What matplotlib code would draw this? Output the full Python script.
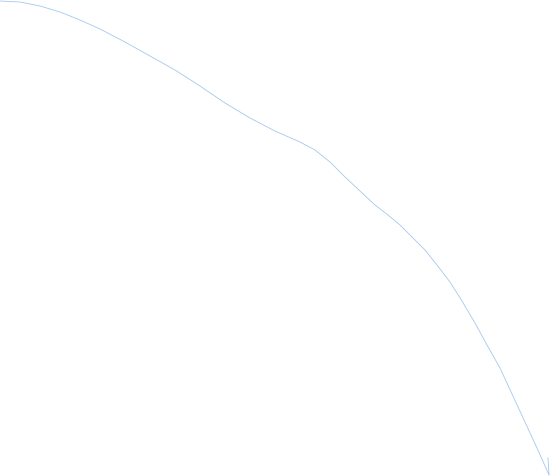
import matplotlib
matplotlib.use('Agg')
import matplotlib.pyplot as plt

# values (x to the right, y downward from the top edge)
x_vals = [0, 20, 40, 60, 80, 100, 125, 150, 175, 200, 225, 250, 275, 300,
          315, 330, 345, 360, 375, 388, 400, 412, 425, 437, 450, 462, 475,
          487, 500, 512, 525, 537, 549, 548]
y_vals = [1, 2, 6, 12, 20, 29, 42, 56, 70, 86, 103, 118, 131, 142,
          150, 162, 177, 191, 205, 215, 225, 237, 250, 265, 282, 301, 323,
          345, 368, 394, 422, 448, 475, 458]

fig = plt.figure(figsize=(5.52, 4.76), dpi=100)
ax = fig.add_axes([0, 0, 1, 1])
ax.plot(x_vals, y_vals, color='#a6c8ec', linewidth=0.6)
ax.set_xlim(0, 552)
ax.set_ylim(476, 0)
ax.axis('off')

plt.savefig('out.png', dpi=100)
plt.close(fig)
